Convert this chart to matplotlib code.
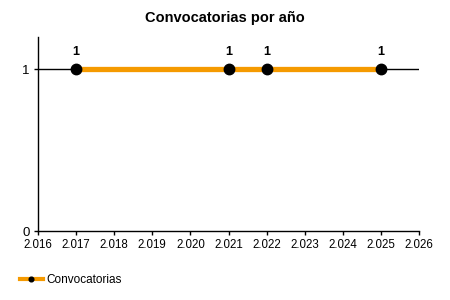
import matplotlib.pyplot as plt
from matplotlib.ticker import FuncFormatter

plt.rcParams['font.family'] = ['Liberation Sans', 'DejaVu Sans']

years = [2017, 2021, 2022, 2025]
counts = [1, 1, 1, 1]
series_name = 'Convocatorias'
title = 'Convocatorias por año'

fig = plt.figure(figsize=(4.5, 3), dpi=100)
ax = fig.add_axes([38 / 450, 1 - 231 / 300, 381 / 450, 194 / 300])

ax.axhline(1, color='black', lw=1, zorder=1)
ax.plot(years, counts, color='#f59a00', lw=3.8, marker='o', markersize=7.5,
        markerfacecolor='black', markeredgecolor='black', label=series_name, zorder=3)
for x, y in zip(years, counts):
    ax.annotate(str(y), (x, y), xytext=(0, 8), textcoords='offset points',
                ha='center', va='bottom', fontsize=9, fontweight='bold')

ax.set_xlim(2016, 2026)
ax.set_ylim(0, 1.2)
ax.set_xticks(range(2016, 2027))
ax.set_yticks([0, 1])
ax.xaxis.set_major_formatter(FuncFormatter(lambda v, p: f'{v:,.0f}'.replace(',', '.')))
ax.tick_params(axis='x', labelsize=8.3, length=3, width=1, pad=3)
ax.tick_params(axis='y', labelsize=9.5, length=3, width=1, pad=3)
for s in ['top', 'right']:
    ax.spines[s].set_visible(False)
for s in ['left', 'bottom']:
    ax.spines[s].set_linewidth(1)

fig.text(0.5, 1 - 18 / 300, title, ha='center', va='center', fontsize=10.5, fontweight='bold')

leg = fig.legend(loc='lower left', bbox_to_anchor=(0.02, 0.01), frameon=False,
                 fontsize=8.5, handlelength=2, markerscale=0.45, handletextpad=0.3)
leg.get_lines()[0].set_linewidth(3)

fig.savefig('out.png', dpi=100)
